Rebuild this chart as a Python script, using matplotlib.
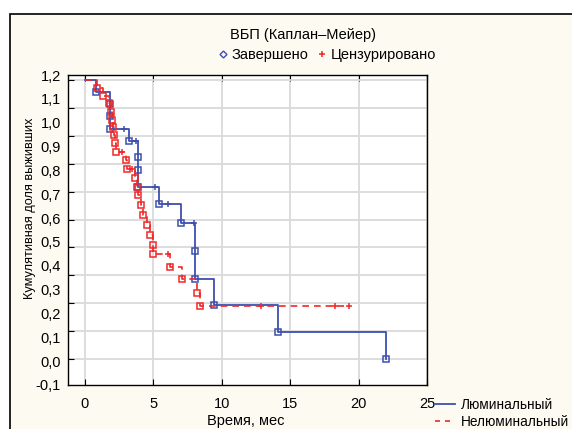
import numpy as np
import matplotlib
matplotlib.use('Agg')
from matplotlib import pyplot as plt
from matplotlib.lines import Line2D
from matplotlib.patches import Rectangle

plt.rcParams['font.family'] = ['Liberation Sans', 'DejaVu Sans']

# Люминальный: события (время, доля) и цензурированные
lum_event_t = [0.8, 1.8, 1.8, 1.8, 3.2, 3.85, 3.85, 3.85, 5.4, 7.0, 8.03, 8.03, 9.45, 14.1, 22.0]
lum_event_s = [0.957, 0.913, 0.870, 0.826, 0.783, 0.724, 0.677, 0.617, 0.556, 0.487, 0.387, 0.287,
               0.195, 0.097, 0.0]
lum_cens_t = [2.85, 3.7, 5.1, 6.1, 7.95]
lum_cens_s = [0.826, 0.783, 0.617, 0.556, 0.487]

# Нелюминальный
nonlum_event_t = [0.88, 1.31, 1.75, 1.90, 1.97, 2.04, 2.12, 2.19, 2.26, 2.99, 3.07, 3.65, 3.80, 3.85,
                  4.09, 4.23, 4.53, 4.74, 4.96, 4.98, 6.20, 7.08, 8.18, 8.39]
nonlum_event_s = [0.971, 0.943, 0.918, 0.885, 0.857, 0.832, 0.803, 0.774, 0.742, 0.713, 0.681, 0.649,
                  0.616, 0.588, 0.552, 0.516, 0.480, 0.444, 0.409, 0.376, 0.330, 0.287, 0.237, 0.190]
nonlum_cens_t = [2.70, 3.43, 6.06, 12.9, 18.25, 19.3]
nonlum_cens_s = [0.742, 0.681, 0.376, 0.190, 0.190, 0.190]

x_ticks = [0, 5, 10, 15, 20, 25]
y_grid = np.arange(0, 1.01, 0.1)
y_label_vals = np.arange(-0.1, 1.21, 0.1)

blue = '#3d4fae'
red = '#f02828'
W, H = 572, 429


def km_line(ev_t, ev_s, cens_t):
    t = [0] + list(ev_t)
    s = [1.0] + list(ev_s)
    if max(cens_t) > t[-1]:
        t.append(max(cens_t))
        s.append(s[-1])
    return t, s


fig = plt.figure(figsize=(W / 100, H / 100), dpi=100)
fig.patch.set_facecolor('white')
frame = Rectangle((10 / W, -0.1), 1.2, (H - 14) / H + 0.1, transform=fig.transFigure,
                  facecolor='#fdfaf1', edgecolor='black', lw=1.2, zorder=-1)
fig.add_artist(frame)

rect = [68 / W, 1 - 385 / H, (427 - 68) / W, (385 - 75) / H]
ax = fig.add_axes(rect)
ax.set_facecolor('white')
ax.set_xlim(-1.24, 25)
ax.set_ylim(-0.093, 1.018)
ax.set_xticks(x_ticks)
ax.set_yticks(y_grid)
ax.set_yticklabels([])
ax.grid(True, color='#dadada', lw=1.3)
ax.set_axisbelow(True)
ax.tick_params(direction='in', length=4, top=True, labelsize=10.5, pad=9)
for sp in ax.spines.values():
    sp.set_linewidth(1.0)

# подписи оси Y (отдельная шкала, как в оригинале)
ax_lab = fig.add_axes(rect, frameon=False)
ax_lab.patch.set_visible(False)
ax_lab.set_ylim(-0.1, 1.2)
ax_lab.set_yticks(y_label_vals)
ax_lab.set_yticklabels([('%.1f' % v).replace('.', ',') for v in y_label_vals])
ax_lab.set_xticks([])
ax_lab.tick_params(axis='y', length=0, pad=5, labelsize=10.5)

# Люминальный
t, s = km_line(lum_event_t, lum_event_s, lum_cens_t)
ax.plot(t, s, drawstyle='steps-post', color=blue, lw=1.3, zorder=3)
ax.plot(lum_event_t, lum_event_s, 's', mfc='none', mec=blue, ms=4, mew=1.1, zorder=4)
ax.plot(lum_cens_t, lum_cens_s, '+', color=blue, ms=5, mew=1.1, zorder=4)

# Нелюминальный
t, s = km_line(nonlum_event_t, nonlum_event_s, nonlum_cens_t)
ax.plot(t, s, drawstyle='steps-post', color=red, lw=1.2, dashes=(4, 3), zorder=5)
ax.plot(nonlum_event_t, nonlum_event_s, 's', mfc='none', mec=red, ms=4, mew=1.1, zorder=6)
ax.plot(nonlum_cens_t, nonlum_cens_s, '+', color=red, ms=5, mew=1.1, zorder=6)

fig.text(303 / W, 1 - 35 / H, 'ВБП (Каплан–Мейер)', ha='center', va='center', fontsize=10.5)
fig.text(30 / W, 1 - 208 / H, 'Кумулятивная доля выживших', ha='center', va='center',
         rotation=90, fontsize=9.2)
fig.text(246 / W, 1 - 421 / H, 'Время, мес', ha='center', va='center', fontsize=10.5)

mk_handles = [Line2D([], [], marker='D', ls='none', mfc='none', mec=blue, ms=3.5, mew=1),
              Line2D([], [], marker='+', ls='none', color=red, ms=5, mew=1.1)]
fig.legend(mk_handles, ['Завершено', 'Цензурировано'], ncol=2, loc='center',
           bbox_to_anchor=(327 / W, 1 - 55 / H), frameon=False, fontsize=10.5,
           handlelength=0.6, handletextpad=0.3, columnspacing=0.6, borderpad=0, borderaxespad=0)

ln_handles = [Line2D([], [], color=blue, lw=1.3),
              Line2D([], [], color=red, lw=1.2, dashes=(3, 3))]
fig.legend(ln_handles, ['Люминальный', 'Нелюминальный'], loc='upper left',
           bbox_to_anchor=(435 / W, 1 - 398 / H), frameon=False, fontsize=9.8,
           handlelength=1.5, handletextpad=0.4, labelspacing=0.2, borderpad=0, borderaxespad=0)

fig.savefig('out.png', dpi=100)
